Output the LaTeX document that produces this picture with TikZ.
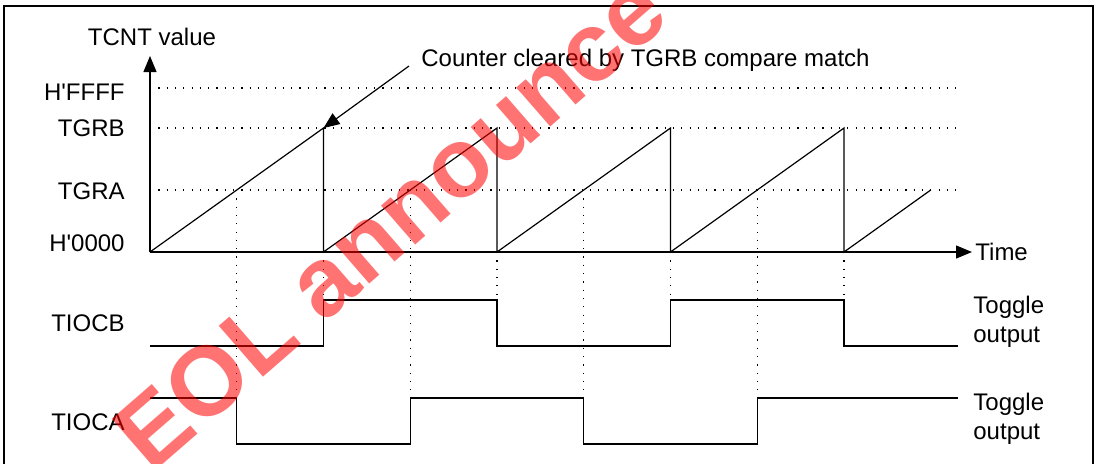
\documentclass[tikz,border=0pt]{standalone}
\usepackage{fontspec}
\setmainfont{Liberation Sans}
\usetikzlibrary{arrows.meta}

\begin{document}
\begin{tikzpicture}[
    x=0.5pt, y=-0.5pt,
    font=\fontsize{12}{14.25}\selectfont,
    % Style for the axes and the callout arrow
    axis/.style={
        line width=0.6pt,
        -{Triangle[length=8pt, width=6.5pt]}
    },
    % Style for the counter and output waveforms
    wave/.style={
        line width=0.6pt
    },
    % Style for the dotted guide lines
    guide/.style={
        line width=0.6pt,
        dash pattern=on 0.6pt off 3.55pt
    },
    lbl/.style={inner sep=0pt},
    % Style for the red stamp across the figure
    stamp/.style={
        inner sep=0pt,
        font=\fontsize{49}{49}\selectfont\bfseries,
        text=red, text opacity=0.55,
        rotate=41
    }
]
\useasboundingbox (0,0) rectangle (1100,463);

% --- Frame ---
\draw[line width=0.9pt] (4,470) |- (1093,6) -- (1093,470);

% --- Draw Axes ---
\coordinate (O) at (150,252);
\coordinate (ytip) at (150,56);
\coordinate (xtip) at (972,252);
\draw[axis] (O) -- (ytip);
\draw[axis] (O) -- (xtip);
\node[lbl, anchor=base] (tcnt) at (152,45) {TCNT value};
\node[lbl, anchor=base west] (time) at (975,260) {Time};

% --- Level labels and dotted levels ---
\node[lbl, anchor=base east] (ffff) at (125,100) {H\textquotesingle FFFF};
\node[lbl, anchor=base east] (tgrb) at (125,136.5) {TGRB};
\node[lbl, anchor=base east] (tgra) at (125,199.5) {TGRA};
\node[lbl, anchor=base east] (zero) at (125,251.5) {H\textquotesingle 0000};
\draw[guide] (150,88) -- (958,88);
\draw[guide] (150,128) -- (958,128);
\draw[guide] (150,190) -- (958,190);

% --- 1. Counter value (cleared at TGRB) ---
\coordinate (peak1) at (323.5,128);
\draw[wave] (O) -- (peak1) -- (323.5,252) -- (497,128) -- (497,252)
    -- (670.5,128) -- (670.5,252) -- (844,128) -- (844,252) -- (930.75,190);

% --- 2. Guides down to the outputs ---
% TGRB matches
\draw[guide] (323.5,252) -- (323.5,300);
\draw[guide] (497,252) -- (497,300);
\draw[guide] (670.5,252) -- (670.5,300);
\draw[guide] (844,252) -- (844,300);
% TGRA matches
\draw[guide] (236.75,190) -- (236.75,398);
\draw[guide] (410.25,190) -- (410.25,398);
\draw[guide] (583.75,190) -- (583.75,444);
\draw[guide] (757.25,190) -- (757.25,444);

% --- 3. TIOCB output ---
\node[lbl, anchor=base east] (tiocb) at (125,331.5) {TIOCB};
\draw[wave] (150,346) -| (323.5,300) -| (497,346) -| (670.5,300) -| (844,346) -- (958,346);
\node[lbl, anchor=west, align=left] (togb) at (973,322) {Toggle\\output};

% --- 4. TIOCA output ---
\node[lbl, anchor=base east] (tioca) at (125,430) {TIOCA};
\draw[wave] (150,398) -| (236.75,444) -| (410.25,398) -| (583.75,444) -| (757.25,398) -- (958,398);
\node[lbl, anchor=west, align=left] (toga) at (973,418.7) {Toggle\\output};

% --- Callout ---
\node[lbl, anchor=base west] (clear) at (421,66.5) {Counter cleared by TGRB compare match};
\coordinate (cleartail) at (409,66);
\draw[axis] (cleartail) -- (peak1);

% --- Stamp ---
\node[stamp] (eol) at (390,222) {EOL announce};

\end{tikzpicture}
\end{document}
